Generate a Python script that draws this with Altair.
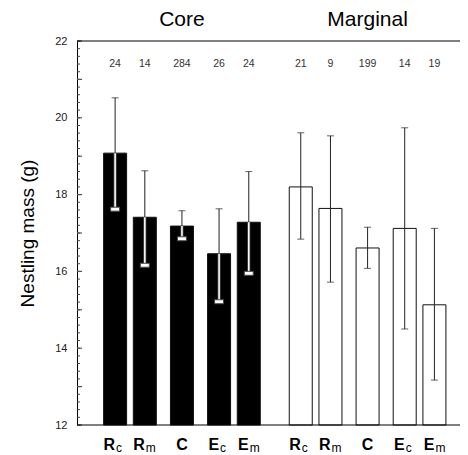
import altair as alt
import pandas as pd

# ---- data ----
groups = ["Core", "Marginal"]
treat_letter = ["R", "R", "C", "E", "E"]
treat_sub = ["c", "m", "", "c", "m"]

core_mean = [19.08, 17.41, 17.18, 16.46, 17.28]
core_upper = [20.52, 18.62, 17.58, 17.63, 18.60]
core_lower = [17.62, 16.16, 16.85, 15.21, 15.95]
core_n = [24, 14, 284, 26, 24]

marg_mean = [18.20, 17.64, 16.61, 17.12, 15.13]
marg_upper = [19.61, 19.53, 17.15, 19.74, 17.12]
marg_lower = [16.84, 15.72, 16.08, 14.50, 13.17]
marg_n = [21, 9, 199, 14, 19]

# ---- layout (slot positions of bars along x) ----
slots = [0, 1, 2.25, 3.5, 4.5]
group_offset = 6.25

rows = []
for gi, (g, m, up, lo, n) in enumerate([
    ("Core", core_mean, core_upper, core_lower, core_n),
    ("Marginal", marg_mean, marg_upper, marg_lower, marg_n),
]):
    for i in range(5):
        rows.append(dict(group=g, letter=treat_letter[i], sub=treat_sub[i],
                         pos=slots[i] + gi * group_offset,
                         mean=m[i], upper=up[i], lower=lo[i], n=str(n[i])))
df = pd.DataFrame(rows)

W, H = 383, 384
xs = alt.Scale(domain=[-1.115, 11.443], nice=False, zero=False)
ys = alt.Scale(domain=[12, 22], nice=False, zero=False)
FONT = "Liberation Sans"

X = alt.X("pos:Q", scale=xs, axis=None)
base = alt.Chart(df)

bars = base.mark_bar(size=23, stroke="#111", strokeWidth=1).encode(
    x=X,
    y=alt.Y("mean:Q", scale=ys,
            axis=alt.Axis(values=[12, 14, 16, 18, 20, 22], tickSize=0, domain=True,
                          domainColor="black", domainWidth=1, grid=False,
                          labelFont=FONT, labelFontSize=11, labelColor="#222",
                          labelPadding=10, title="Nestling mass (g)",
                          titleFont=FONT, titleFontSize=19, titleFontWeight="normal",
                          titleColor="black", titleX=-50, titleY=H / 2,
                          titleAngle=-90, titleAlign="center", titleBaseline="middle")),
    y2=alt.datum(12),
    fill=alt.Color("group:N", scale=alt.Scale(domain=groups, range=["black", "white"]),
                   legend=None),
)

upper_rule = base.mark_rule(color="#222", strokeWidth=1).encode(
    x=X, y=alt.Y("mean:Q", scale=ys), y2="upper:Q")
upper_cap = base.mark_tick(orient="horizontal", size=7, thickness=1, color="#222").encode(
    x=X, y=alt.Y("upper:Q", scale=ys))

core_df = df[df.group == "Core"]
marg_df = df[df.group == "Marginal"]

core_low_outline = alt.Chart(core_df).mark_rule(color="#555", strokeWidth=3).encode(
    x=X, y=alt.Y("lower:Q", scale=ys), y2="mean:Q")
core_low_white = alt.Chart(core_df).mark_rule(color="white", strokeWidth=1.5).encode(
    x=X, y=alt.Y("lower:Q", scale=ys), y2="mean:Q")
core_low_cap = alt.Chart(core_df).mark_tick(orient="horizontal", size=9, thickness=4,
                                            fill="white", stroke="#444", strokeWidth=1,
                                            filled=True, opacity=1).encode(
    x=X, y=alt.Y("lower:Q", scale=ys))
marg_low_rule = alt.Chart(marg_df).mark_rule(color="#222", strokeWidth=1).encode(
    x=X, y=alt.Y("lower:Q", scale=ys), y2="mean:Q")
marg_low_cap = alt.Chart(marg_df).mark_tick(orient="horizontal", size=7, thickness=1,
                                            color="#222").encode(
    x=X, y=alt.Y("lower:Q", scale=ys))

counts = base.mark_text(font=FONT, fontSize=10.5, color="#333", baseline="alphabetic").encode(
    x=X, y=alt.value(26), text="n:N")

# x category labels with subscripts
with_sub = df[df["sub"] != ""]
no_sub = df[df["sub"] == ""]
lab_main = alt.Chart(with_sub).mark_text(font=FONT, fontSize=16, fontWeight="bold",
                                         align="right", baseline="alphabetic", dx=0,
                                         color="black").encode(
    x=X, y=alt.value(H + 25), text="letter:N")
lab_sub = alt.Chart(with_sub).mark_text(font=FONT, fontSize=12, align="left",
                                        baseline="alphabetic", dx=1, color="black").encode(
    x=X, y=alt.value(H + 27), text="sub:N")
lab_c = alt.Chart(no_sub).mark_text(font=FONT, fontSize=16, fontWeight="bold",
                                    align="center", baseline="alphabetic",
                                    color="black").encode(
    x=X, y=alt.value(H + 25), text="letter:N")

# group titles above the C bars
titles = alt.Chart(no_sub).mark_text(font=FONT, fontSize=21, align="center",
                                     baseline="alphabetic", color="black").encode(
    x=X, y=alt.value(-15), text="group:N")

# frame lines (top and bottom), open on the right like the reference
frame = alt.Chart(pd.DataFrame({"v": [12, 22]})).mark_rule(
    color="black", strokeWidth=1).encode(
    y=alt.Y("v:Q", scale=ys), x=alt.value(0), x2=alt.value(W))

# inner axis ticks
minor_vals = [round(12 + 0.2 * i, 2) for i in range(51)]
major_vals = list(range(12, 23))
minor_ticks = alt.Chart(pd.DataFrame({"v": minor_vals})).mark_rule(
    color="#444", strokeWidth=1).encode(
    y=alt.Y("v:Q", scale=ys), x=alt.value(0), x2=alt.value(3))
major_ticks = alt.Chart(pd.DataFrame({"v": major_vals})).mark_rule(
    color="#555", strokeWidth=1.2).encode(
    y=alt.Y("v:Q", scale=ys), x=alt.value(0), x2=alt.value(5))

chart = alt.layer(
    bars, upper_rule, upper_cap,
    core_low_outline, core_low_white, core_low_cap,
    marg_low_rule, marg_low_cap,
    counts, lab_main, lab_sub, lab_c, titles,
    minor_ticks, major_ticks, frame,
).properties(
    width=W, height=H,
    autosize=alt.AutoSizeParams(type="none"),
    padding={"left": 69, "top": 33, "right": 0, "bottom": 30},
    background="white",
).configure_view(stroke=None)

chart.save("out.html", embed_options={"renderer": "svg", "actions": False})
